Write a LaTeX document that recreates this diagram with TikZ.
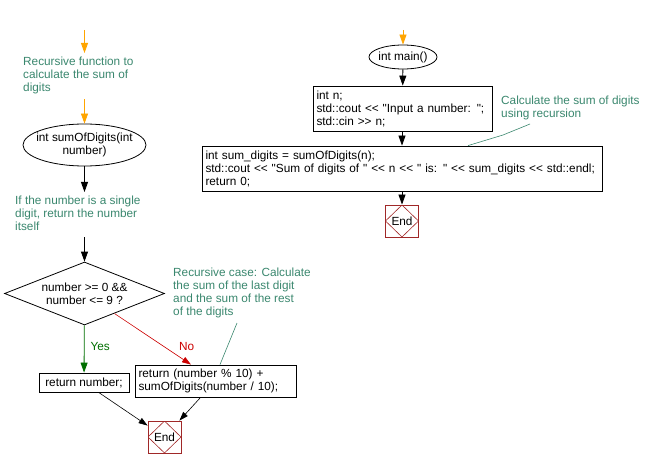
\documentclass[tikz,border=0pt]{standalone}
\usepackage{fontspec}
\setmainfont{Liberation Sans}[Ligatures=TeXOff]
\usepackage{xcolor}
\usetikzlibrary{arrows.meta, shapes.geometric}
\definecolor{notegreen}{RGB}{58,135,110}
\definecolor{startorange}{RGB}{255,165,0}
\definecolor{yesgreen}{RGB}{0,110,0}
\definecolor{nored}{RGB}{204,0,0}
\definecolor{endred}{RGB}{160,40,40}

\begin{document}
\begin{tikzpicture}[
    x=1pt, y=-1pt,
    >={Triangle[length=10pt, width=7pt]},
    every node/.style={font=\fontsize{11.8}{13}\selectfont, inner sep=3pt},
    procbox/.style={rectangle, draw=black, line width=0.8pt, align=left, inner xsep=3.5pt, inner ysep=2pt},
    startnode/.style={ellipse, draw=black, line width=0.8pt, inner ysep=0pt, align=center},
    decision/.style={diamond, draw=black, line width=0.8pt, inner sep=0pt, aspect=2.5,
        minimum width=160, minimum height=63, align=center},
    endbox/.style={rectangle, draw=endred, line width=0.8pt, minimum width=33, minimum height=32, inner sep=0pt,
        path picture={\draw[endred, line width=0.6pt] (path picture bounding box.north) -- (path picture bounding box.east)
            -- (path picture bounding box.south) -- (path picture bounding box.west) -- cycle;}},
    note/.style={text=notegreen, align=left, anchor=north west, inner sep=0pt},
    arr/.style={->, line width=0.8pt, draw=black},
    startarr/.style={->, line width=0.8pt, draw=startorange, >={Triangle[length=10pt, width=7pt]}},
    yesarr/.style={->, line width=0.8pt, draw=yesgreen},
    noarr/.style={->, line width=0.6pt, draw=nored, >={Triangle[length=9pt, width=6pt]}},
    diagarr/.style={->, line width=0.6pt, draw=black, >={Triangle[length=9pt, width=6pt]}},
    notelink/.style={line width=0.6pt, draw=notegreen},
]
\useasboundingbox (0,0) rectangle (659,468);

\coordinate (startL) at (84.5,30);
\node[note] (note1) at (23,57) {Recursive function to\\calculate the sum of\\digits};
\node[startnode, inner xsep=-15pt, minimum width=123, minimum height=42] (sumfn) at (84.5,145) {int sumOfDigits(int\\number)};
\node[note] (note2) at (15,196) {If the number is a single\\digit, return the number\\itself};
\node[decision] (cond) at (84.5,293.5) {number >= 0 \&\&\\number <= 9 ?};
\node[procbox, minimum width=90, minimum height=19, align=center] (retnum) at (84,382.5) {return number;};
\node[procbox, text width=154, minimum height=32] (recbox) at (215.5,381) {return (number \% 10) +\\sumOfDigits(number / 10);};
\node[endbox] (endL) at (164.5,437) {End};
\node[note] (note3) at (173,268) {Recursive case: Calculate\\the sum of the last digit\\and the sum of the rest\\of the digits};
\coordinate (n3tail) at (237,323);

\draw[startarr] (startL) -- ([yshift=4pt]startL |- note1.north);
\draw[startarr] ([yshift=-5pt]sumfn.north |- note1.south) -- (sumfn.north);
\draw[arr] (sumfn.south) -- ([yshift=4pt]sumfn.south |- note2.north);
\draw[arr] ([yshift=-6pt]cond.north |- note2.south) -- (cond.north);
\draw[yesarr] (cond) -- node[right, text=yesgreen, pos=0.45, xshift=3pt] (yeslbl) {Yes} (retnum);
\draw[noarr] (cond) -- node[above right, text=nored, pos=0.75, xshift=4pt, yshift=-2pt] (nolbl) {No} (recbox);
\draw[diagarr] (retnum) -- (endL);
\draw[diagarr] (recbox) -- (endL);
\draw[notelink] (n3tail) -- ([xshift=4.5pt]recbox.north);

\coordinate (startR) at (403,30);
\node[startnode, inner xsep=-3pt, minimum width=68, minimum height=24] (mainfn) at (403,57) {int main()};
\node[procbox, text width=172, minimum height=45] (box1) at (402.5,108.5) {int n;\\std::cout << "Input a number: ";\\std::cin >> n;};
\node[procbox, text width=393, minimum height=45] (box2) at (402,168.5) {int sum\_digits = sumOfDigits(n);\\std::cout << "Sum of digits of " << n << " is: " << sum\_digits << std::endl;\\return 0;};
\node[endbox] (endR) at (402,221) {End};
\node[note] (note4) at (501,96) {Calculate the sum of digits\\using recursion};
\coordinate (n4tail) at (530,124);

\draw[startarr] (startR) -- (mainfn.north);
\draw[arr] (mainfn) -- (box1);
\draw[arr] (box1.south -| box2.north) -- (box2.north);
\draw[arr] (box2) -- (endR);
\draw[notelink] (n4tail) -- (503,135) -- ([xshift=66pt]box2.north);
\end{tikzpicture}
\end{document}
